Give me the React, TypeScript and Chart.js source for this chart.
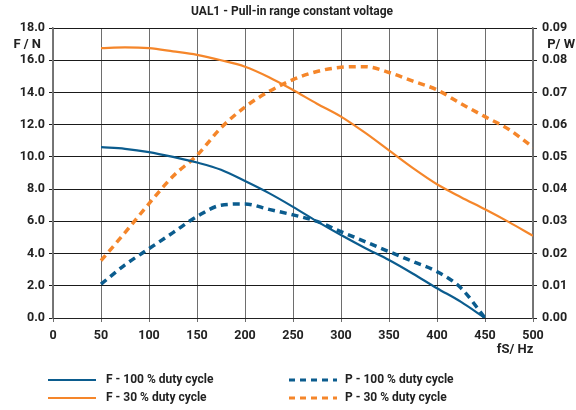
import React, { useEffect, useRef } from "react";
import { Chart, registerables } from "chart.js";

Chart.register(...registerables);

const TITLE = "UAL1 - Pull-in range constant voltage";
const FREQ = [50, 75, 100, 125, 150, 175, 200, 225, 250, 275, 300, 325, 350, 375, 400, 425, 450, 475, 500];
const F100 = [10.6, 10.5, 10.3, 10.0, 9.65, 9.2, 8.5, 7.75, 6.9, 6.0, 5.15, 4.35, 3.6, 2.75, 1.85, 1.0, 0.0, null, null];
const F30 = [16.75, 16.8, 16.75, 16.55, 16.33, 16.0, 15.6, 14.95, 14.15, 13.3, 12.5, 11.5, 10.4, 9.3, 8.3, 7.5, 6.75, 5.95, 5.1];
const P100 = [0.0105, 0.0165, 0.0215, 0.0265, 0.0315, 0.035, 0.0354, 0.0337, 0.032, 0.03, 0.0268, 0.0237, 0.0206, 0.0175, 0.0144, 0.0093, 0.0, null, null];
const P30 = [0.0178, 0.0265, 0.0355, 0.044, 0.0505, 0.059, 0.0655, 0.0703, 0.074, 0.0765, 0.0778, 0.078, 0.0762, 0.0735, 0.0708, 0.0665, 0.0625, 0.0585, 0.053];
const LABELS = ["F - 100 % duty cycle", "F - 30 % duty cycle", "P - 100 % duty cycle", "P - 30 % duty cycle"];
const BLUE = "#0b5c8e";
const ORANGE = "#f5862a";
const FONT = "Roboto, 'DejaVu Sans', sans-serif";

const pts = (ys: (number | null)[]) => FREQ.map((x, i) => ({ x, y: ys[i] }));

export default function App() {
  const ref = useRef<HTMLCanvasElement>(null);
  useEffect(() => {
    document.body.style.margin = "0";
    const overlay = {
      id: "overlay",
      afterDraw(chart: any) {
        const ctx = chart.ctx;
        ctx.save();
        ctx.fillStyle = "#222";
        ctx.font = `bold 12px ${FONT}`;
        ctx.textAlign = "center";
        ctx.textBaseline = "middle";
        ctx.fillText(TITLE, 292, 12);
        ctx.font = `bold 13px ${FONT}`;
        ctx.textAlign = "right";
        ctx.fillText("F / N", 41, 45);
        ctx.fillText("P/ W", 575, 45);
        ctx.textAlign = "center";
        ctx.fillText("fS/ Hz", 515, 350);
        const items = chart.data.datasets.map((d: any, i: number) => ({
          label: d.label,
          color: d.borderColor,
          dash: d.borderDash || [],
          x: i < 2 ? 48 : 289,
          y: i % 2 === 0 ? 380 : 398,
        }));
        ctx.font = `bold 12px ${FONT}`;
        items.forEach((it: any) => {
          ctx.beginPath();
          ctx.strokeStyle = it.color;
          ctx.lineWidth = it.dash.length ? 3 : 2.2;
          ctx.setLineDash(it.dash.length ? [6, 5] : []);
          ctx.moveTo(it.x, it.y);
          ctx.lineTo(it.x + 48, it.y);
          ctx.stroke();
          ctx.setLineDash([]);
          ctx.fillStyle = "#222";
          ctx.textAlign = "left";
          ctx.fillText(it.label, it.x + (it.dash.length ? 56 : 58), it.y);
        });
        ctx.restore();
      },
    };
    const common = { fill: false, pointRadius: 0, cubicInterpolationMode: "monotone", spanGaps: false };
    const tickFont = { family: FONT, size: 12.5, weight: "bold" };
    const chart = new Chart(ref.current!, {
      type: "line",
      data: {
        datasets: [
          { ...common, label: LABELS[0], data: pts(F100), borderColor: BLUE, borderWidth: 2.2, yAxisID: "y" },
          { ...common, label: LABELS[1], data: pts(F30), borderColor: ORANGE, borderWidth: 2.2, yAxisID: "y" },
          { ...common, label: LABELS[2], data: pts(P100), borderColor: BLUE, borderWidth: 3.5, borderDash: [7, 5], yAxisID: "y1" },
          { ...common, label: LABELS[3], data: pts(P30), borderColor: ORANGE, borderWidth: 3.5, borderDash: [7, 5], yAxisID: "y1" },
        ] as any,
      },
      options: {
        animation: false,
        responsive: false,
        layout: { padding: { top: 28, bottom: 0, left: 0, right: 0 } },
        plugins: { legend: { display: false }, tooltip: { enabled: false }, title: { display: false } },
        scales: {
          x: {
            type: "linear",
            min: 0,
            max: 500,
            ticks: { stepSize: 50, color: "#222", font: tickFont, padding: 6, maxRotation: 0 },
            grid: { color: "#6e6e6e", lineWidth: 1, tickLength: 4, drawTicks: true },
            border: { color: "#222", width: 1 },
            afterFit: (s: any) => { s.height = 92; },
          },
          y: {
            position: "left",
            min: 0,
            max: 18,
            ticks: { stepSize: 2, color: "#222", font: tickFont, padding: 4, callback: (v: any) => Number(v).toFixed(1) },
            grid: { color: "#1a1a1a", lineWidth: 1, tickLength: 4 },
            border: { color: "#777", width: 1.5 },
            afterFit: (s: any) => { s.width = 53; },
          },
          y1: {
            position: "right",
            min: 0,
            max: 0.09,
            ticks: { stepSize: 0.01, color: "#222", font: tickFont, padding: 5, callback: (v: any) => Number(v).toFixed(2) },
            grid: { drawOnChartArea: false, tickLength: 4, color: "#222" },
            border: { color: "#777", width: 1.5 },
            afterFit: (s: any) => { s.width = 43; },
          },
        },
      } as any,
      plugins: [overlay],
    });
    return () => chart.destroy();
  }, []);
  return (
    <div style={{ width: 576, height: 410, background: "#fff" }}>
      <canvas ref={ref} width={576} height={410} style={{ width: 576, height: 410, display: "block" }} />
    </div>
  );
}
